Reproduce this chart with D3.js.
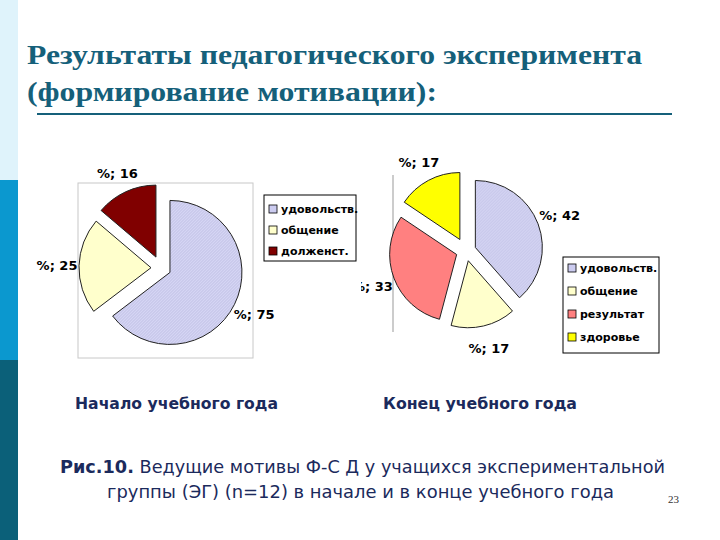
<!DOCTYPE html>
<html><head><meta charset="utf-8">
<script src="https://cdn.jsdelivr.net/npm/d3@7"></script>
<style>body{margin:0;background:#fff}svg{display:block}</style>
</head><body>
<script>
// ---- data ----
const startCats = ["удовольств.", "общение", "долженст."];
const startVals = [75, 25, 16];
const endCats = ["удовольств.", "общение", "результат", "здоровье"];
const endVals = [42, 17, 33, 17];
const titleLines = ["Результаты педагогического эксперимента", "(формирование мотивации):"];
const subTitles = ["Начало учебного года", "Конец учебного года"];
const captionBold = "Рис.10.";
const captionLine1 = " Ведущие мотивы Ф-С Д у учащихся экспериментальной";
const captionLine2 = "группы (ЭГ) (n=12) в начале и в конце учебного года";
const pageNum = "23";

const startColors = ["url(#hatch)", "#ffffcc", "#800000"];
const endColors = ["url(#hatch)", "#ffffcc", "#ff8080", "#ffff00"];
const legendStart = ["#ccccf0", "#ffffcc", "#800000"];
const legendEnd = ["#ccccf0", "#ffffcc", "#ff8080", "#ffff00"];

const W = 720, H = 540;
const svg = d3.select("body").append("svg").attr("width", W).attr("height", H);
const defs = svg.append("defs");
const pat = defs.append("pattern").attr("id", "hatch").attr("patternUnits", "userSpaceOnUse")
  .attr("width", 3).attr("height", 3);
pat.append("rect").attr("width", 3).attr("height", 3).attr("fill", "#d6d6f4");
pat.append("path").attr("d", "M0,3 L3,0").attr("stroke", "#b8b8e0").attr("stroke-width", 0.8);
defs.append("clipPath").attr("id", "rclip").append("rect").attr("x", 361).attr("y", 0).attr("width", 359).attr("height", 540);

// sidebar
svg.append("rect").attr("x", 0).attr("y", 0).attr("width", 18).attr("height", 180).attr("fill", "#dff3fb");
svg.append("rect").attr("x", 0).attr("y", 180).attr("width", 18).attr("height", 180).attr("fill", "#0b98cf");
svg.append("rect").attr("x", 0).attr("y", 360).attr("width", 18).attr("height", 180).attr("fill", "#0b6079");

// title
const tc = "#15607a";
titleLines.forEach((t, i) => {
  svg.append("text").attr("x", 27).attr("y", 64 + i * 37)
    .attr("font-family", "Liberation Serif, DejaVu Serif, serif").attr("font-weight", "bold")
    .attr("font-size", 27).attr("fill", tc)
    .attr("textLength", i === 0 ? 615 : 410).attr("lengthAdjust", "spacingAndGlyphs")
    .text(t);
});
svg.append("line").attr("x1", 37).attr("x2", 672).attr("y1", 114).attr("y2", 114)
  .attr("stroke", tc).attr("stroke-width", 2);

function drawPie(g, vals, colors, cx, cy, r, off, labR) {
  const pie = d3.pie().sort(null).value(d => d)(vals);
  const arc = d3.arc().innerRadius(0).outerRadius(r);
  pie.forEach((p, i) => {
    const m = (p.startAngle + p.endAngle) / 2;
    const o = off[i];
    const dx = Math.sin(m) * o, dy = -Math.cos(m) * o;
    g.append("path").attr("d", arc(p))
      .attr("transform", `translate(${cx + dx},${cy + dy})`)
      .attr("fill", colors[i]).attr("stroke", "#222").attr("stroke-width", 1);
    g.append("text").attr("x", cx + Math.sin(m) * labR).attr("y", cy - Math.cos(m) * labR)
      .attr("text-anchor", "middle").attr("dominant-baseline", "central")
      .attr("font-family", "DejaVu Sans, Verdana, sans-serif").attr("font-size", 13)
      .attr("font-weight", "bold").attr("fill", "#000")
      .text("%; " + vals[i]);
  });
}

function drawLegend(g, cats, colors, x, y, w, h, rowH, firstY) {
  g.append("rect").attr("x", x).attr("y", y).attr("width", w).attr("height", h)
    .attr("fill", "#fff").attr("stroke", "#000").attr("stroke-width", 1);
  cats.forEach((c, i) => {
    const yy = firstY + i * rowH;
    g.append("rect").attr("x", x + 5).attr("y", yy - 4).attr("width", 8).attr("height", 8)
      .attr("fill", colors[i]).attr("stroke", "#000").attr("stroke-width", 0.8);
    g.append("text").attr("x", x + 17).attr("y", yy).attr("dominant-baseline", "central")
      .attr("font-family", "DejaVu Sans, Verdana, sans-serif").attr("font-size", 11)
      .attr("font-weight", 600).attr("fill", "#000").text(c);
  });
}

// left chart
const gl = svg.append("g");
gl.append("rect").attr("x", 78).attr("y", 183).attr("width", 175).attr("height", 175)
  .attr("fill", "none").attr("stroke", "#c8c8c8").attr("stroke-width", 1);
drawPie(gl, startVals, startColors, 161, 268, 72, [10, 10, 12], 104);
drawLegend(gl, startCats, legendStart, 264, 195, 92, 66, 21, 209);

// right chart
const gr = svg.append("g").attr("clip-path", "url(#rclip)");
gr.append("line").attr("x1", 393).attr("x2", 393).attr("y1", 175).attr("y2", 332)
  .attr("stroke", "#999").attr("stroke-width", 1);
drawPie(gr, endVals, endColors, 466, 251, 67, [10, 10, 10, 13], 100);
drawLegend(gr, endCats, legendEnd, 563, 257, 96, 96, 23, 268);

// subtitles
const nc = "#1b2a5c";
[[75, subTitles[0], 203], [383, subTitles[1], 194]].forEach(([x, t, L]) => {
  svg.append("text").attr("x", x).attr("y", 409)
    .attr("font-family", "DejaVu Sans, Verdana, sans-serif").attr("font-weight", "bold")
    .attr("font-size", 15).attr("fill", nc)
    .attr("textLength", L).attr("lengthAdjust", "spacingAndGlyphs").text(t);
});

// caption
const cap1 = svg.append("text").attr("x", 60).attr("y", 473)
  .attr("font-family", "DejaVu Sans, Verdana, sans-serif").attr("font-size", 17).attr("fill", nc)
  .attr("textLength", 605).attr("lengthAdjust", "spacingAndGlyphs");
cap1.append("tspan").attr("font-weight", "bold").text(captionBold);
cap1.append("tspan").text(captionLine1);
svg.append("text").attr("x", 107).attr("y", 498)
  .attr("font-family", "DejaVu Sans, Verdana, sans-serif").attr("font-size", 17).attr("fill", nc)
  .attr("textLength", 507).attr("lengthAdjust", "spacingAndGlyphs")
  .text(captionLine2);
svg.append("text").attr("x", 668).attr("y", 503)
  .attr("font-family", "Liberation Serif, serif").attr("font-size", 11).attr("fill", "#333").text(pageNum);
</script>
</body></html>
